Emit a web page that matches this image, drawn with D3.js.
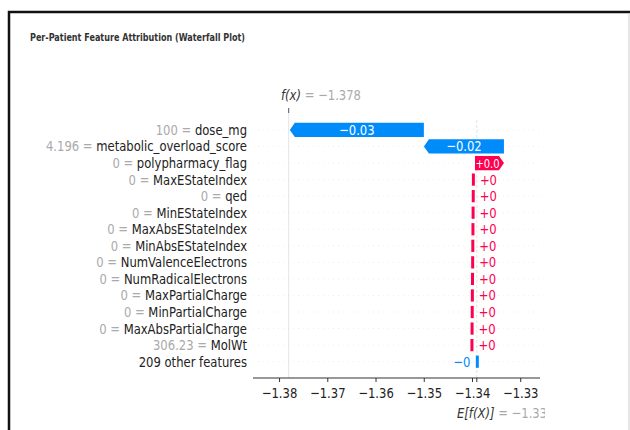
<!DOCTYPE html>
<html lang="en">
<head>
<meta charset="UTF-8">
<title>Per-Patient Feature Attribution (Waterfall Plot)</title>
<script src="https://d3js.org/d3.v7.min.js"></script>
<style>
  body { margin: 0; background: #fff; overflow: hidden; }
  svg { display: block; }
  text { font-family: "DejaVu Sans", sans-serif; }
</style>
</head>
<body>
<svg id="chart" width="630" height="430"></svg>
<script>
// data
const features = ["dose_mg", "metabolic_overload_score", "polypharmacy_flag", "MaxEStateIndex", "qed",
  "MinEStateIndex", "MaxAbsEStateIndex", "MinAbsEStateIndex", "NumValenceElectrons", "NumRadicalElectrons",
  "MaxPartialCharge", "MinPartialCharge", "MaxAbsPartialCharge", "MolWt", "209 other features"];
const featureValues = ["100", "4.196", "0", "0", "0", "0", "0", "0", "0", "0", "0", "0", "0", "306.23", ""];
const shapValues = [-0.0278, -0.0166, 0.0060, 0.00003, 0.00003, 0.00003, 0.00003, 0.00003, 0.00003,
  0.00003, 0.00003, 0.00003, 0.00003, 0.00003, -0.0007];
const barLabels = ["\u22120.03", "\u22120.02", "+0.0", "+0", "+0", "+0", "+0", "+0", "+0",
  "+0", "+0", "+0", "+0", "+0", "\u22120"];
const baseValue = -1.339;
const fxValue = -1.378;
const xTicks = [-1.38, -1.37, -1.36, -1.35, -1.34, -1.33];

const blue = "#008bfb", pink = "#ff0051";
const squeeze = 0.8; // the reference text is horizontally compressed
const fs = 14.5;

const svg = d3.select("#chart");

// frame
svg.append("rect").attr("x", 9).attr("y", 12).attr("width", 640).attr("height", 440)
  .attr("fill", "none").attr("stroke", "#111").attr("stroke-width", 2.5);
svg.append("line").attr("x1", 629).attr("x2", 629).attr("y1", 13).attr("y2", 430)
  .attr("stroke", "#ccc").attr("stroke-width", 1);

svg.append("text").attr("x", 30).attr("y", 41)
  .attr("font-size", 10).attr("font-weight", "bold").attr("fill", "#333")
  .attr("textLength", 215).attr("lengthAdjust", "spacingAndGlyphs")
  .text("Per-Patient Feature Attribution (Waterfall Plot)");

const x = d3.scaleLinear().domain([-1.3854, -1.3259]).range([253, 540]);
const y = d3.scaleBand().domain(features).range([122.8, 368.8]).paddingInner(0.14);
const bh = y.bandwidth();
const yc = f => y(f) + bh / 2;

// faint row guides
svg.append("g").selectAll("line").data(features).join("line")
  .attr("x1", 253).attr("x2", 540).attr("y1", yc).attr("y2", yc)
  .attr("stroke", "#ddd").attr("stroke-width", 0.5).attr("stroke-dasharray", "1,4");

// vertical reference lines
svg.append("line").attr("x1", x(fxValue)).attr("x2", x(fxValue)).attr("y1", 113).attr("y2", 378)
  .attr("stroke", "#ddd").attr("stroke-width", 0.8);
svg.append("line").attr("x1", x(baseValue)).attr("x2", x(baseValue)).attr("y1", 120).attr("y2", 378)
  .attr("stroke", "#ddd").attr("stroke-width", 0.8).attr("stroke-dasharray", "3,2");

// waterfall: accumulate from the bottom row upwards
const rows = [];
let cum = baseValue;
for (let i = features.length - 1; i >= 0; i--) {
  rows[i] = { f: features[i], v: shapValues[i], start: cum, end: cum + shapValues[i], label: barLabels[i] };
  cum += shapValues[i];
}

function barPath(d) {
  let x0 = x(d.start), x1 = x(d.end);
  const top = y(d.f), bot = top + bh, mid = top + bh / 2;
  const dir = d.v >= 0 ? 1 : -1;
  if (Math.abs(x1 - x0) < 4) {
    // tiny contribution: thin block
    const c = d.v >= 0 ? x0 - 3 : x0 - 1;
    return `M${c},${top + 1}h${3}v${bh - 2}h-3z`;
  }
  const head = Math.min(5, Math.abs(x1 - x0) / 2);
  return `M${x0},${top}L${x1 - dir * head},${top}L${x1},${mid}L${x1 - dir * head},${bot}L${x0},${bot}Z`;
}

const bars = svg.append("g");
bars.selectAll("path").data(rows).join("path")
  .attr("d", barPath)
  .attr("fill", d => d.v >= 0 ? pink : blue);

function squeezed(g, xPos, yPos, anchor) {
  return g.append("text")
    .attr("transform", `translate(${xPos},${yPos}) scale(${squeeze},1)`)
    .attr("text-anchor", anchor);
}

// bar value labels
rows.forEach(d => {
  const w = Math.abs(x(d.end) - x(d.start));
  const cy = yc(d.f) + 5;
  if (w > 25) {
    squeezed(bars, (x(d.start) + x(d.end)) / 2 - (w < 40 ? 2 : 0), cy, "middle")
      .attr("font-size", w < 40 ? 12.5 : fs).attr("fill", "#fff").text(d.label);
  } else if (d.v >= 0) {
    squeezed(bars, x(d.start) + 5, cy, "start")
      .attr("font-size", fs).attr("fill", pink).text(d.label);
  } else {
    squeezed(bars, x(d.end) - 3, cy, "end")
      .attr("font-size", fs).attr("fill", blue).text(d.label);
  }
});

// feature labels
const lab = svg.append("g");
features.forEach((f, i) => {
  const t = squeezed(lab, 247, yc(f) + 5, "end").attr("font-size", fs);
  if (featureValues[i] !== "") {
    t.append("tspan").attr("fill", "#aaa").text(featureValues[i] + " = ");
  }
  t.append("tspan").attr("fill", "#222").text(f);
});

// bottom axis
const axis = svg.append("g").attr("transform", "translate(0,378)")
  .call(d3.axisBottom(x).tickValues(xTicks).tickSize(4).tickFormat(d => d3.format(".2f")(d).replace("-", "\u2212")));
axis.select(".domain").attr("stroke", "#333").attr("stroke-width", 1.2).attr("d", "M253,0H540");
axis.selectAll(".tick line").attr("stroke", "#333");
axis.selectAll(".tick text").attr("font-size", fs).attr("fill", "#222").attr("y", 10)
  .attr("transform", `scale(${squeeze},1)`).attr("font-family", "DejaVu Sans");
axis.append("line").attr("x1", x(baseValue)).attr("x2", x(baseValue)).attr("y1", 0).attr("y2", 4)
  .attr("stroke", "#333");

// E[f(X)] label, clipped like the reference
svg.append("clipPath").attr("id", "clipE").append("rect")
  .attr("x", 440).attr("y", 400).attr("width", 105).attr("height", 25);
const eLab = squeezed(svg.append("g").attr("clip-path", "url(#clipE)"), 457, 418, "start").attr("font-size", fs);
eLab.append("tspan").attr("fill", "#333").attr("font-style", "italic").text("E[f(X)]");
eLab.append("tspan").attr("fill", "#aaa").text(" = " + String(baseValue).replace("-", "\u2212"));

// f(x) label on top
svg.append("line").attr("x1", x(fxValue)).attr("x2", x(fxValue)).attr("y1", 108).attr("y2", 113)
  .attr("stroke", "#555");
const fLab = squeezed(svg, 281, 100, "start").attr("font-size", fs);
fLab.append("tspan").attr("fill", "#333").attr("font-style", "italic").text("f(x)");
fLab.append("tspan").attr("fill", "#aaa").text(" = " + String(fxValue).replace("-", "\u2212"));
</script>
</body>
</html>
